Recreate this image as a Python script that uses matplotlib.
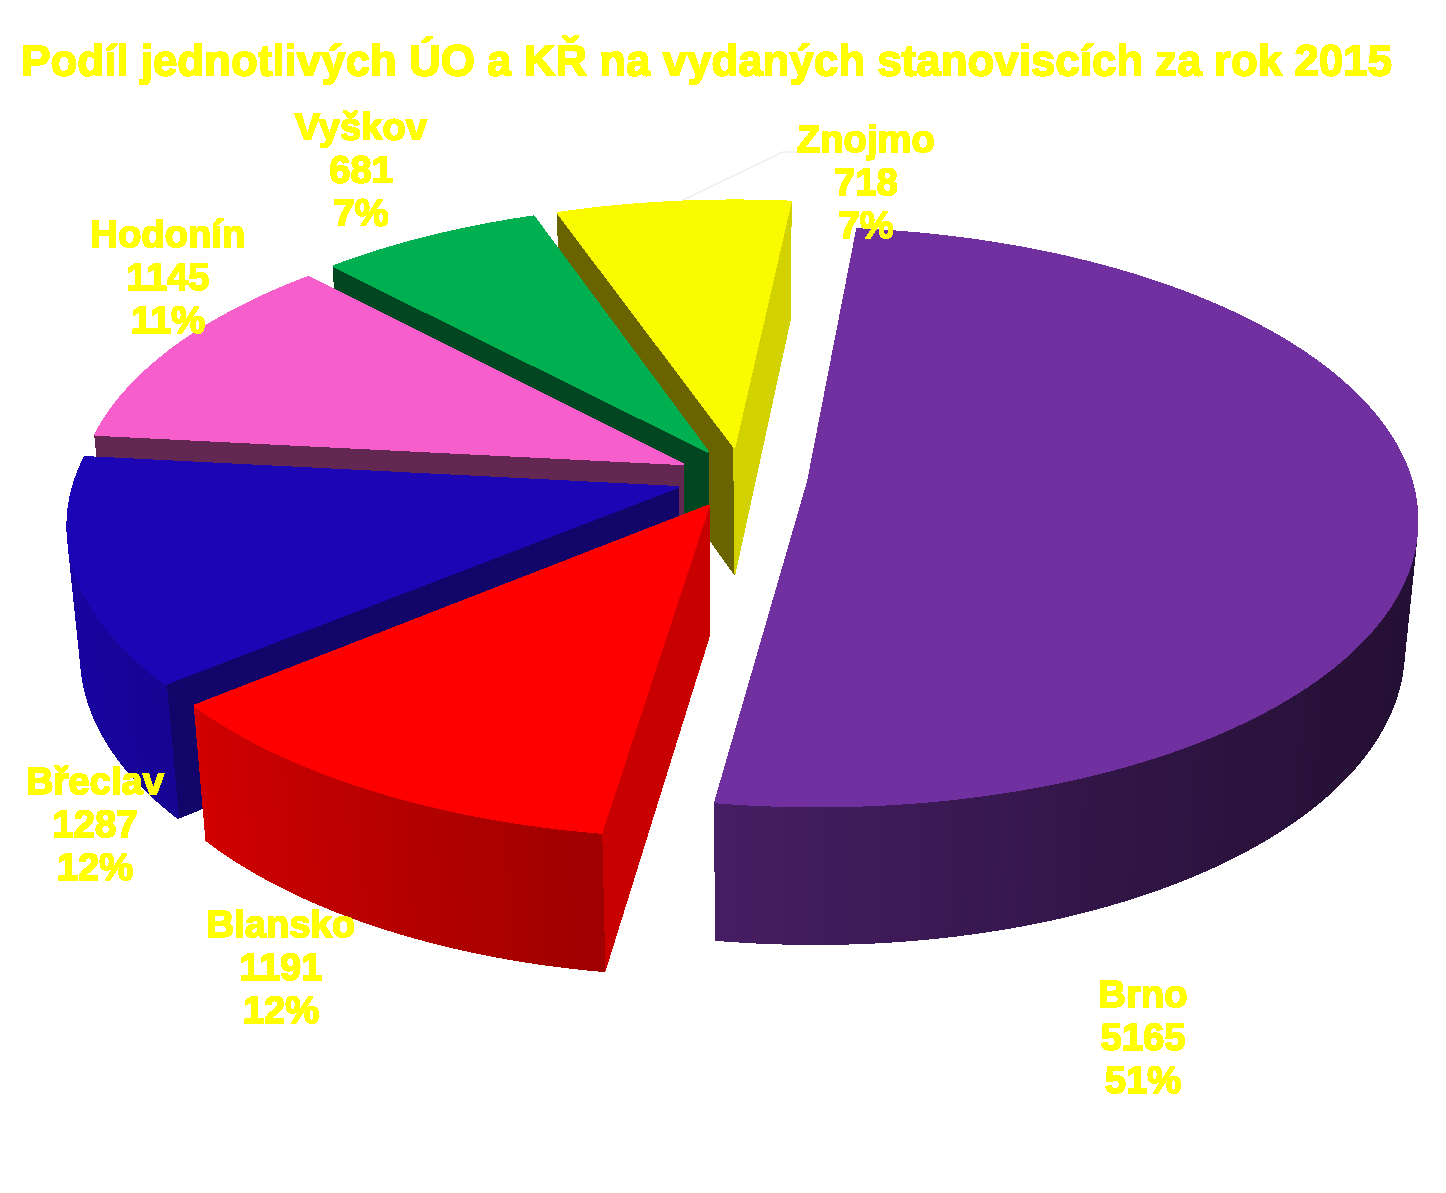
import numpy as np
import matplotlib
matplotlib.use("Agg")
import matplotlib.pyplot as plt
from matplotlib.patches import Polygon
from matplotlib.colors import to_rgb
import matplotlib.patheffects as pe

plt.rcParams["font.family"] = ["Liberation Sans", "DejaVu Sans"]
plt.rcParams["text.antialiased"] = False

W, H = 1446, 1193

# Data
names = ["Brno", "Blansko", "Břeclav", "Hodonín", "Vyškov", "Znojmo"]
values = [5165, 1191, 1287, 1145, 681, 718]
percents = ["51%", "12%", "12%", "11%", "7%", "7%"]
top_colors = ["#7030A0", "#FF0000", "#1C05B4", "#F65FCB", "#00AF50", "#FAFA00"]
title = "Podíl jednotlivých ÚO a KŘ na vydaných stanoviscích za rok 2015"

# Per-slice cut face colours (start edge, end edge)
cut_colors = [("#2A1240", "#2A1240"), ("#C80000", "#C80000"), ("#12056A", "#12056A"),
              ("#632852", "#632852"), ("#004620", "#004620"), ("#696400", "#D2D200")]

# Projection of the pie (screen pixels)
CX, CY = 742, 478
BX, AY = 603, 284
PERSP = 0.1215
DEPTH = 130
DEPTH_W = 0.02
EXPLODE = 0.11
START = 6.0

# Rim shading against angle clockwise from the top
shade_angle = [90, 110, 130, 150, 188, 230, 260, 300]
shade_value = [0.33, 0.33, 0.36, 0.42, 0.62, 0.82, 0.90, 0.90]

label_pos = [(1143, 1040), (281, 970), (95, 827), (168, 280), (361, 172), (866, 185)]


def project(u, s, z=0.0):
    w = 1 - PERSP * s + DEPTH_W * z
    return CX + BX * u / w, CY + (AY * s + DEPTH * z) / w


def scaled(color, f):
    return tuple(c * f for c in to_rgb(color))


def area(points):
    x, y = np.array(points).T
    return 0.5 * np.sum(x * np.roll(y, -1) - np.roll(x, -1) * y)


fig = plt.figure(figsize=(W / 100, H / 100), dpi=100)
ax = fig.add_axes([0, 0, 1, 1])
ax.set_xlim(0, W)
ax.set_ylim(H, 0)
ax.axis("off")


def face(points, color, zorder):
    ax.add_patch(Polygon(points, closed=True, facecolor=color, edgecolor=color,
                         linewidth=0.6, antialiased=False, zorder=zorder))


total = sum(values)
spans = [v / total * 360 for v in values]
starts = START + np.concatenate([[0], np.cumsum(spans)[:-1]])

# back slices first, the big one goes last
paint_order = [5, 4, 3, 2, 1, 0]
for layer, i in enumerate(paint_order):
    a0, a1 = starts[i], starts[i] + spans[i]
    mid = np.radians((a0 + a1) / 2)
    ou, os_ = EXPLODE * np.sin(mid), -EXPLODE * np.cos(mid)
    theta = np.radians(np.arange(a0, a1, 0.5).tolist() + [a1])
    us = ou + np.sin(theta)
    ss = os_ - np.cos(theta)
    zo = 10 + layer * 10

    top = [project(ou, os_)] + [project(u, s) for u, s in zip(us, ss)]
    bottom = [project(ou, os_, 1)] + [project(u, s, 1) for u, s in zip(us, ss)]

    # side faces, culled by winding (y points down here)
    cut_start = [top[0], top[1], bottom[1], bottom[0]]
    cut_end = [top[-1], top[0], bottom[0], bottom[-1]]
    if area(cut_start) < 0:
        face(cut_start, cut_colors[i][0], zo)
    if area(cut_end) < 0:
        face(cut_end, cut_colors[i][1], zo)

    # outer rim, one quad per step
    for k in range(1, len(top) - 1):
        quad = [top[k], top[k + 1], bottom[k + 1], bottom[k]]
        if area(quad) < 0:
            ang = np.degrees(theta[k]) % 360
            face(quad, scaled(top_colors[i], np.interp(ang, shade_angle, shade_value)), zo + 1)

    face(top, top_colors[i], zo + 2)

# leader line of Znojmo
ax.plot([683, 783, 797], [200, 152, 152], color="#EEEEEE", linewidth=1, zorder=5)

thick = [pe.withStroke(linewidth=0.35, foreground="#FFFF00")]
for name, value, pct, (x, y) in zip(names, values, percents, label_pos):
    ax.text(x, y, f"{name}\n{value}\n{pct}", color="#FFFF00", fontsize=27.5, fontweight="bold",
            ha="center", va="center", linespacing=1.25, zorder=100, path_effects=thick)

ax.text(707, 60, title, color="#FFFF00", fontsize=31.6, fontweight="bold",
        ha="center", va="center", zorder=100, path_effects=thick)

fig.savefig("out.png", dpi=100, facecolor="white")
